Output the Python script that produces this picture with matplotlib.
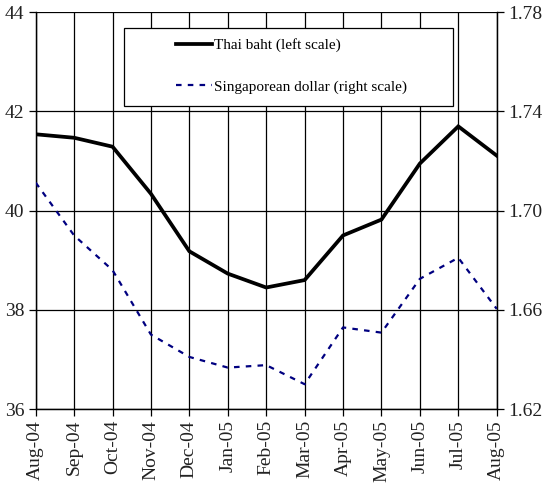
import matplotlib
matplotlib.use("Agg")
import matplotlib.pyplot as plt
from matplotlib.patches import Rectangle

months = ["Aug-04", "Sep-04", "Oct-04", "Nov-04", "Dec-04", "Jan-05", "Feb-05",
          "Mar-05", "Apr-05", "May-05", "Jun-05", "Jul-05", "Aug-05"]
thai_baht = [41.54, 41.47, 41.29, 40.34, 39.18, 38.73, 38.45, 38.60, 39.50,
             39.82, 40.95, 41.70, 41.11]
sing_dollar = [1.7113, 1.690, 1.676, 1.650, 1.641, 1.6367, 1.6377, 1.630,
               1.6529, 1.6508, 1.6725, 1.681, 1.6604]
left_ticks = [36, 38, 40, 42, 44]
right_ticks = [1.62, 1.66, 1.70, 1.74, 1.78]
right_labels = ["1.62", "1.66", "1.70", "1.74", "1.78"]

plt.rcParams['font.family'] = ['Liberation Serif', 'DejaVu Serif']

W, H = 551, 495
fig = plt.figure(figsize=(W / 100, H / 100), dpi=100)
ax = fig.add_axes([35.7 / W, 1 - 409 / H, (496.7 - 35.7) / W, (409 - 12.3) / H])
ax2 = ax.twinx()

x = list(range(len(months)))
ax.set_xlim(0, len(months) - 1)
ax.set_ylim(36, 44)
ax2.set_ylim(1.62, 1.78)

ax.set_yticks(left_ticks)
ax.set_yticklabels([str(t) for t in left_ticks])
ax2.set_yticks(right_ticks)
ax2.set_yticklabels(right_labels)
ax.set_xticks(x)
ax.set_xticklabels(months, rotation=90)

ax.grid(True, color='black', linewidth=0.9)
ax.set_axisbelow(True)

for a in (ax, ax2):
    for s in a.spines.values():
        s.set_linewidth(0.9)
        s.set_color('black')
ax.spines['top'].set_visible(False)
ax2.spines['top'].set_visible(False)

ax.tick_params(axis='both', direction='out', length=5, width=0.9,
               labelsize=14, colors='black', labelcolor='#222222', pad=3)
ax2.tick_params(axis='y', direction='out', length=5, width=0.9,
                labelsize=14, colors='black', labelcolor='#222222', pad=3)

l1, = ax.plot(x, thai_baht, color='black', linewidth=2.7, solid_joinstyle='miter',
              zorder=5)
l2, = ax2.plot(x, sing_dollar, color='#000080', linewidth=1.6,
               dashes=(2.5, 2.8), zorder=5)

# legend box
bx0, bx1, by0, by1 = 124, 453, 28.3, 106
rect = Rectangle((bx0 / W, 1 - by1 / H), (bx1 - bx0) / W, (by1 - by0) / H,
                 transform=fig.transFigure, facecolor='white', edgecolor='black',
                 linewidth=0.9, zorder=10)
fig.patches.append(rect)

leg = fig.legend([l1, l2], ["Thai baht (left scale)", "Singaporean dollar (right scale)"],
                 loc='upper left', bbox_to_anchor=(175.7 / W, 1 - 38.5 / H),
                 frameon=False, fontsize=11, handlelength=2.35,
                 handletextpad=0.15, labelspacing=1.8, borderpad=0,
                 borderaxespad=0)
leg.set_zorder(11)

fig.savefig("out.png", dpi=100)
